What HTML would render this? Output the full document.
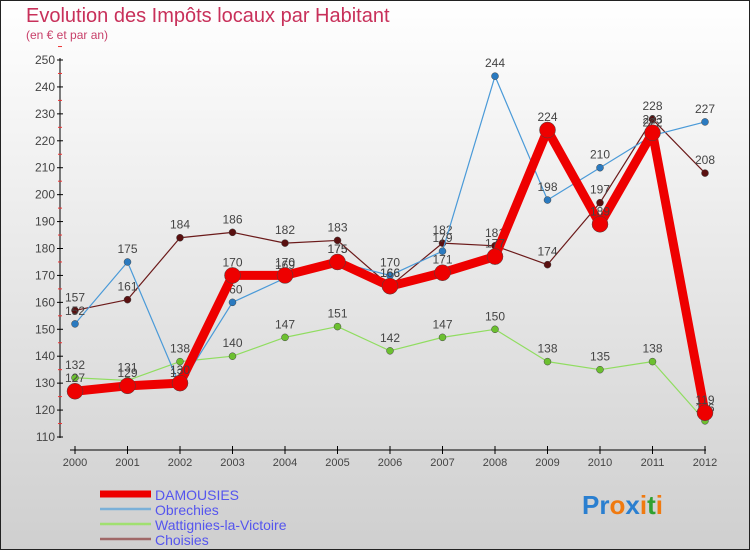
<!DOCTYPE html>
<html><head><meta charset="utf-8"><style>
body{margin:0;width:750px;height:550px;overflow:hidden;font-family:"Liberation Sans",sans-serif}
svg text{font-family:"Liberation Sans",sans-serif}
</style></head><body>
<svg width="750" height="550">
<defs><linearGradient id="bg" x1="0" y1="0" x2="0" y2="1"><stop offset="0" stop-color="#ffffff"/><stop offset="1" stop-color="#cfcfcf"/></linearGradient></defs>
<rect x="0.5" y="0.5" width="749" height="549" fill="url(#bg)" stroke="#222"/>
<text x="26" y="22" font-size="20" fill="#c8305a">Evolution des Impôts locaux par Habitant</text>
<text x="26" y="39" font-size="12" fill="#c8406a">(en € et par an)</text>
<g id="axes"></g><g id="series"></g><g id="legend"></g>
<text x="582" y="514" font-size="26" font-weight="bold"><tspan fill="#2a7fd0">Pr</tspan><tspan fill="#f07a10">o</tspan><tspan fill="#2a7fd0">x</tspan><tspan fill="#f07a10">i</tspan><tspan fill="#30a030">t</tspan><tspan fill="#f07a10">i</tspan></text>
</svg>
<script>
const years=[2000,2001,2002,2003,2004,2005,2006,2007,2008,2009,2010,2011,2012];
const yTicks=[110,120,130,140,150,160,170,180,190,200,210,220,230,240,250];
const damousies=[127,129,130,170,170,175,166,171,177,224,189,223,119];
const obrechies=[152,175,129,160,169,175,170,179,244,198,210,222,227];
const wattignies=[132,131,138,140,147,151,142,147,150,138,135,138,116];
const choisies=[157,161,184,186,182,183,166,182,181,174,197,228,208];
const NS="http://www.w3.org/2000/svg";
const X=i=>75+i*52.5, Y=v=>437-(v-110)*(377/140);
function mk(t,a,p){const e=document.createElementNS(NS,t);for(const k in a)e.setAttribute(k,a[k]);p.appendChild(e);return e;}
const ax=document.getElementById('axes');
let e=mk('line',{x1:60,y1:58,x2:60,y2:438,stroke:'#000'},ax);


yTicks.forEach(v=>{mk('line',{x1:57,x2:63,y1:Y(v),y2:Y(v),stroke:'#000'},ax);
 mk('line',{x1:58,x2:62,y1:Y(v+5),y2:Y(v+5),stroke:'#e33'},ax);
 const t=mk('text',{x:55,y:Y(v)+4,'font-size':12,fill:'#444','text-anchor':'end'},ax);t.textContent=v;
 
 });
e=mk('line',{x1:70,y1:450,x2:706,y2:450,stroke:'#000'},ax);


years.forEach((y,i)=>{mk('line',{x1:X(i),x2:X(i),y1:446,y2:454,stroke:'#000'},ax);
 const t=mk('text',{x:X(i),y:466,'font-size':11,fill:'#444','text-anchor':'middle'},ax);t.textContent=y;
 
 });
const sg=document.getElementById('series');
const defs=[['choisies',choisies,'#6b1a1a','#5a1010',1.2,3.5],['wattignies',wattignies,'#90dd60','#6cc030',1.2,3.5],['obrechies',obrechies,'#4a9ad8','#2a7ac0',1.2,3.5],['damousies',damousies,'#ee0000','#ee0000',9,8]];
defs.forEach(([n,d,c,dc,w,r])=>{
 const p=mk('polyline',{points:d.map((v,i)=>X(i)+','+Y(v)).join(' '),fill:'none',stroke:c,'stroke-width':w,'stroke-linejoin':'round'},sg);
 
 
 d.forEach((v,i)=>{const ci=mk('circle',{cx:X(i),cy:Y(v),r:r,fill:dc,stroke:'#444','stroke-width':0.5},sg);
  
  
  const t=mk('text',{x:X(i),y:Y(v)-9,'font-size':12,fill:'#444','text-anchor':'middle'},sg);t.textContent=v;
  
  });
});
const lg=document.getElementById('legend');
[['DAMOUSIES','#ee0000',7],['Obrechies','#7ab0d8',2.5],['Wattignies-la-Victoire','#a0e070',2.5],['Choisies','#a06868',2.5]].forEach(([n,c,w],i)=>{
 const y=494+i*15;
 const l=mk('line',{x1:100,x2:151,y1:y,y2:y,stroke:c,'stroke-width':w},lg);
 
 
 const t=mk('text',{x:155,y:y+6,'font-size':14,fill:'#5555ee'},lg);t.textContent=n;
 
 
});
</script>
</body></html>
